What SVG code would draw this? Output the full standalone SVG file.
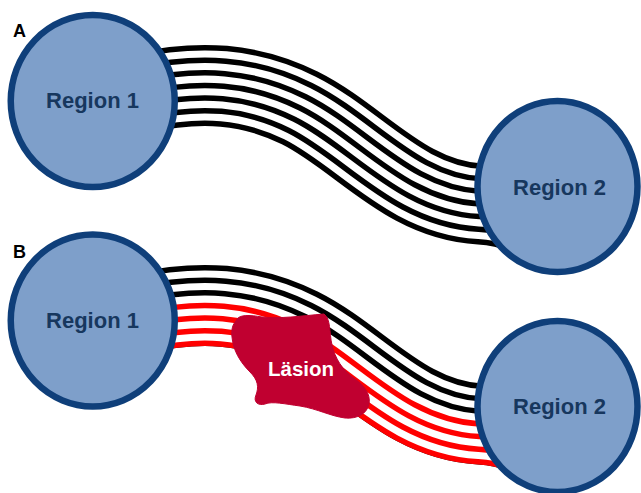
<svg xmlns="http://www.w3.org/2000/svg" xmlns:xlink="http://www.w3.org/1999/xlink" width="641" height="493" viewBox="0 0 641 493">
  <defs>
    <style>
      .region ellipse { fill: #7E9FCA; stroke: #0F3F7A; stroke-width: 6.5; }
      .region text { font-family: "Liberation Sans", Arial, sans-serif; font-weight: bold; font-size: 22px; fill: #17375E; text-anchor: middle; }
      .panel-label { font-family: "Liberation Sans", Arial, sans-serif; font-weight: bold; font-size: 18px; fill: #000; }
      .lesion path { fill: #C00030; stroke: #C00030; stroke-width: 1; stroke-linejoin: round; }
      .lesion text { font-family: "Liberation Sans", Arial, sans-serif; font-weight: bold; font-size: 20.5px; fill: #fff; }
    </style>

    <!-- centre line of the fibre bundle (middle fibre) -->
    <path id="axis" d="M 140,93 C 200,80 250,83 300,108 C 360,138 405,200 480,204 C 505,205 525,212 545,225"/>

    <!-- seven parallel fibres: nested strokes around the centre line -->
    <g id="bundle" fill="none">
      <use xlink:href="#axis" href="#axis" stroke="currentColor" stroke-width="81.1"/>
      <use xlink:href="#axis" href="#axis" stroke="#fff" stroke-width="70.1"/>
      <use xlink:href="#axis" href="#axis" stroke="currentColor" stroke-width="55.9"/>
      <use xlink:href="#axis" href="#axis" stroke="#fff" stroke-width="44.9"/>
      <use xlink:href="#axis" href="#axis" stroke="currentColor" stroke-width="30.7"/>
      <use xlink:href="#axis" href="#axis" stroke="#fff" stroke-width="19.7"/>
      <use xlink:href="#axis" href="#axis" stroke="currentColor" stroke-width="5.5"/>
    </g>

    <!-- lower four fibres: everything below the gap above the centre line -->
    <mask id="lower" maskUnits="userSpaceOnUse" x="0" y="0" width="641" height="493">
      <path d="M 140,93 C 200,80 250,83 300,108 C 360,138 405,200 480,204 C 505,205 525,212 545,225 L 545,300 L 140,300 Z" fill="#fff"/>
      <use xlink:href="#axis" href="#axis" fill="none" stroke="#fff" stroke-width="12.6"/>
    </mask>
  </defs>

  <rect width="641" height="493" fill="#fff"/>

  <!-- fibre tracts -->
  <g id="tracts">
    <g id="tract-a">
      <use xlink:href="#bundle" href="#bundle" color="#000"/>
    </g>
    <g id="tract-b" transform="translate(0,220)">
      <use xlink:href="#bundle" href="#bundle" color="#000"/>
      <use xlink:href="#bundle" href="#bundle" color="#FF0000" mask="url(#lower)"/>
    </g>
  </g>

  <!-- panel A -->
  <text class="panel-label" x="13" y="37">A</text>
  <g id="region1-a" class="region">
    <ellipse cx="92.75" cy="101" rx="82" ry="86"/>
    <text x="92.5" y="108">Region 1</text>
  </g>
  <g id="region2-a" class="region">
    <ellipse cx="557.5" cy="186.5" rx="80" ry="85.5"/>
    <text x="559.5" y="195">Region 2</text>
  </g>

  <!-- panel B -->
  <text class="panel-label" x="13" y="258">B</text>
  <g id="region1-b" class="region">
    <ellipse cx="92.75" cy="320.5" rx="82" ry="86"/>
    <text x="92.5" y="328">Region 1</text>
  </g>
  <g id="region2-b" class="region">
    <ellipse cx="557.5" cy="406.5" rx="80" ry="85.5"/>
    <text x="559.5" y="414">Region 2</text>
  </g>

  <g id="lesion" class="lesion">
    <path d="M 236,321 C 238,314 250,315 262,317 C 280,319 300,316 324,314 C 331,319 329,332 332,345 C 335,358 342,370 355,379 C 363,385 371,393 369,404 C 367,414 357,419 345,418 C 330,416 318,409 300,406 C 285,404 272,401 265,404 C 258,406 253,402 256,395 C 259,387 258,380 250,372 C 240,362 233,350 232,337 C 231,329 233,324 236,321 Z"/>
    <text x="268" y="376">Läsion</text>
  </g>
</svg>
